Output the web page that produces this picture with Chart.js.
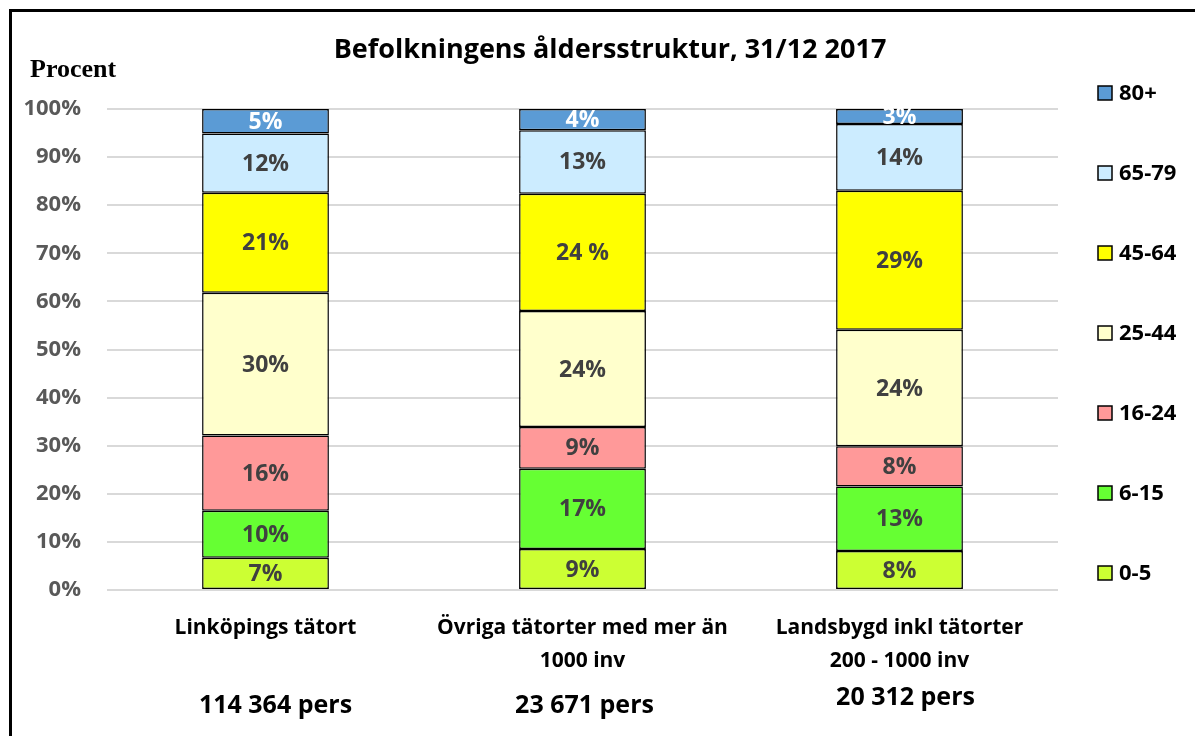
<!DOCTYPE html>
<html lang="sv">
<head>
<meta charset="utf-8">
<title>Befolkningens åldersstruktur</title>
<script src="https://cdn.jsdelivr.net/npm/chart.js@4/dist/chart.umd.min.js"></script>
<style>
  html, body { margin: 0; padding: 0; background: #fff; }
  #wrap { width: 1195px; height: 736px; position: relative; }
</style>
</head>
<body>
<div id="wrap"><canvas id="aldersChart" width="1195" height="736"></canvas></div>
<script>
// Områden (kategorier)
const omraden = [
  ['Linköpings tätort'],
  ['Övriga tätorter med mer än', '1000 inv'],
  ['Landsbygd inkl tätorter', '200 - 1000 inv']
];
const antalPers = ['114 364 pers', '23 671 pers', '20 312 pers'];

// Åldersgrupper, nedifrån och upp
const aldersgrupper = ['0-5', '6-15', '16-24', '25-44', '45-64', '65-79', '80+'];

// Andel (%) per åldersgrupp och område
const andel0_5   = [6.7, 8.5, 8.1];
const andel6_15  = [9.8, 16.7, 13.4];
const andel16_24 = [15.6, 8.7, 8.4];
const andel25_44 = [29.7, 24.1, 24.2];
const andel45_64 = [20.8, 24.4, 28.9];
const andel65_79 = [12.3, 13.2, 13.9];
const andel80    = [5.1, 4.4, 3.1];

// Etiketter som skrevs för hand i originalet
const specialEtiketter = [[4, 1, '24 %']];

const yTicks = [0, 10, 20, 30, 40, 50, 60, 70, 80, 90, 100];

const titel = 'Befolkningens åldersstruktur, 31/12 2017';

const farger = ['#CCFF33', '#66FF33', '#FF9999', '#FFFFCC', '#FFFF00', '#CCECFF', '#5B9BD5'];
const serier = [andel0_5, andel6_15, andel16_24, andel25_44, andel45_64, andel65_79, andel80];

const FONT = '"Open Sans"';

const datasets = serier.map((v, i) => ({
  label: aldersgrupper[i],
  data: v,
  backgroundColor: farger[i],
  borderColor: '#000',
  borderWidth: 1.5,
  borderSkipped: false,
  categoryPercentage: 1,
  barPercentage: 0.4
}));

// Egna tillägg: ram, rubrik, "Procent", dataetiketter, antal pers, förklaring
const extras = {
  id: 'extras',
  afterDraw(chart) {
    const { ctx, scales: { x } } = chart;
    ctx.save();

    // ram (bara topp och vänster syns)
    ctx.strokeStyle = '#000';
    ctx.lineWidth = 3;
    ctx.beginPath();
    ctx.moveTo(10.5, 736);
    ctx.lineTo(10.5, 10.5);
    ctx.lineTo(1195, 10.5);
    ctx.stroke();

    // rubrik
    ctx.fillStyle = '#000';
    ctx.textAlign = 'center';
    ctx.textBaseline = 'middle';
    ctx.font = 'bold 27px ' + FONT;
    ctx.fillText(titel, 610, 50);

    ctx.font = 'bold 26px "Liberation Serif"';
    ctx.textAlign = 'left';
    ctx.fillText('Procent', 30, 70);

    // dataetiketter
    ctx.textAlign = 'center';
    ctx.font = 'bold 23px ' + FONT;
    chart.data.datasets.forEach((ds, i) => {
      chart.getDatasetMeta(i).data.forEach((bar, j) => {
        let txt = Math.round(ds.data[j]) + '%';
        specialEtiketter.forEach(s => { if (s[0] === i && s[1] === j) txt = s[2]; });
        ctx.fillStyle = i === 6 ? '#fff' : '#404040';
        ctx.fillText(txt, bar.x, (bar.y + bar.base) / 2 + 1);
      });
    });

    // antal personer under kategorierna
    const persY = [706, 706, 698];
    const persDx = [10, 2, 6];
    ctx.fillStyle = '#000';
    ctx.font = 'bold 25px ' + FONT;
    antalPers.forEach((t, j) => {
      ctx.fillText(t, x.getPixelForValue(j) + persDx[j], persY[j]);
    });

    // förklaring, 80+ överst
    ctx.textAlign = 'left';
    ctx.font = 'bold 22px ' + FONT;
    for (let k = 0; k < aldersgrupper.length; k++) {
      const i = aldersgrupper.length - 1 - k;
      const cy = 93 + k * 80;
      ctx.fillStyle = farger[i];
      ctx.fillRect(1098, cy - 7, 14, 14);
      ctx.strokeStyle = '#000';
      ctx.lineWidth = 1.5;
      ctx.strokeRect(1098, cy - 7, 14, 14);
      ctx.fillStyle = '#000';
      ctx.fillText(aldersgrupper[i], 1119, cy + 1);
    }
    ctx.restore();
  }
};

new Chart(document.getElementById('aldersChart'), {
  type: 'bar',
  data: { labels: omraden, datasets: datasets },
  options: {
    responsive: false,
    animation: false,
    layout: { padding: { left: 0, right: 137, top: 109, bottom: 0 } },
    plugins: {
      legend: { display: false },
      tooltip: { enabled: false },
      title: { display: false }
    },
    scales: {
      x: {
        stacked: true,
        grid: { display: false, drawTicks: false },
        border: { display: false },
        afterFit: s => { s.height = 146; },
        ticks: {
          color: '#000',
          padding: 22,
          maxRotation: 0,
          autoSkip: false,
          font: { family: 'Open Sans', size: 21, weight: 'bold', lineHeight: 1.57 }
        }
      },
      y: {
        stacked: true,
        min: 0,
        max: 100,
        afterFit: s => { s.width = 107; },
        afterBuildTicks: s => { s.ticks = yTicks.map(v => ({ value: v })); },
        grid: { color: '#D9D9D9', lineWidth: 2, drawTicks: false },
        border: { display: false },
        ticks: {
          color: '#595959',
          padding: 26,
          font: { family: 'Open Sans', size: 22, weight: 'bold' },
          callback: v => v + '%'
        }
      }
    }
  },
  plugins: [extras]
});
</script>
</body>
</html>
